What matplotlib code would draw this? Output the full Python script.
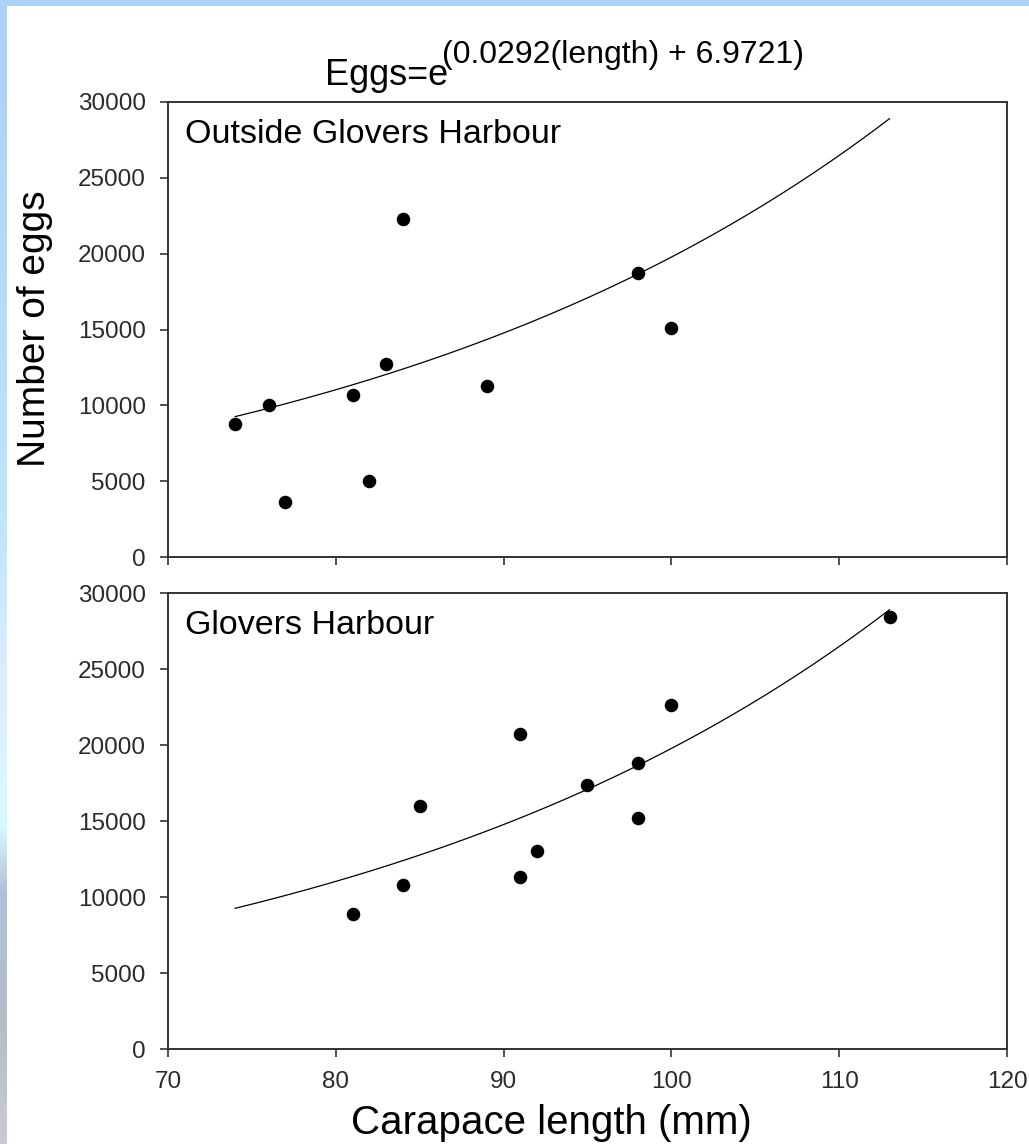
import numpy as np
import matplotlib
matplotlib.use("Agg")
from matplotlib import pyplot as plt
from matplotlib.colors import LinearSegmentedColormap

# data
outside_length = [74, 76, 77, 81, 82, 83, 84, 89, 98, 100]
outside_eggs = [8800, 10000, 3600, 10700, 5000, 12700, 22300, 11300, 18700, 15100]

glovers_length = [81, 84, 85, 91, 91, 92, 95, 98, 98, 100, 113]
glovers_eggs = [8900, 10800, 16000, 20700, 11300, 13000, 17400, 18800, 15200, 22600, 28400]

# fitted model printed in the title
slope = 0.0292
intercept = 6.9721
fit_start, fit_end = 74, 113

panel_names = ["Outside Glovers Harbour", "Glovers Harbour"]
x_ticks = [70, 80, 90, 100, 110, 120]
y_ticks = [0, 5000, 10000, 15000, 20000, 25000, 30000]

plt.rcParams['font.family'] = ['Liberation Sans', 'DejaVu Sans']

fig = plt.figure(figsize=(10.29, 11.44), dpi=100)
fig.patch.set_facecolor('white')

# slide background strips (top and left edge)
top_strip = fig.add_axes([0, 1 - 6 / 1144, 1, 6 / 1144])
top_strip.axis('off')
top_strip.add_patch(plt.Rectangle((0, 0), 1, 1, color='#afd2fb', transform=top_strip.transAxes))

side_cmap = LinearSegmentedColormap.from_list(
    'side', [(0, '#acd0f8'), (0.45, '#bfe4fb'), (0.6, '#dcefff'), (0.72, '#d8fbff'),
             (0.78, '#b0c0d6'), (0.9, '#b4bec8'), (1.0, '#c8ccd0')])
side = fig.add_axes([0, 0, 7 / 1029, 1 - 6 / 1144])
side.imshow(np.linspace(0, 1, 256).reshape(-1, 1), cmap=side_cmap, aspect='auto')
side.axis('off')

ax_top = fig.add_axes([168 / 1029, 1 - 557 / 1144, 839 / 1029, 455 / 1144])
ax_bot = fig.add_axes([168 / 1029, 1 - 1049 / 1144, 839 / 1029, 456 / 1144])

fit_x = np.linspace(fit_start, fit_end, 200)
fit_y = np.exp(slope * fit_x + intercept)

for ax, xs, ys, name in [(ax_top, outside_length, outside_eggs, panel_names[0]),
                         (ax_bot, glovers_length, glovers_eggs, panel_names[1])]:
    ax.plot(fit_x, fit_y, color='black', lw=0.9)
    ax.scatter(xs, ys, s=95, color='black', zorder=3, linewidths=0)
    ax.set_xlim(70, 120)
    ax.set_ylim(0, 30000)
    ax.set_xticks(x_ticks)
    ax.set_yticks(y_ticks)
    for sp in ax.spines.values():
        sp.set_linewidth(1.4)
        sp.set_color('#333333')
    ax.tick_params(direction='out', length=6, width=1.2, color='#333333',
                   labelsize=17.5, labelcolor='#2a2a2a')
    ax.tick_params(axis='y', pad=10)
    ax.tick_params(axis='x', pad=10)
    ax.text(0.02, 0.91, name, transform=ax.transAxes, fontsize=24.5,
            ha='left', va='baseline')

ax_top.set_xticklabels([])

fig.text(325 / 1029, 1 - 85 / 1144, "Eggs=e", fontsize=26, ha='left', va='baseline')
fig.text(442 / 1029, 1 - 63 / 1144, "(%.4f(length) + %.4f)" % (slope, intercept),
         fontsize=23, ha='left', va='baseline')

fig.text(35 / 1029, 1 - 329 / 1144, "Number of eggs", fontsize=28, rotation=90,
         ha='center', va='center')
fig.text(551 / 1029, 1 - 1134 / 1144, "Carapace length (mm)", fontsize=29,
         ha='center', va='baseline')

plt.savefig('out.png', dpi=100)
